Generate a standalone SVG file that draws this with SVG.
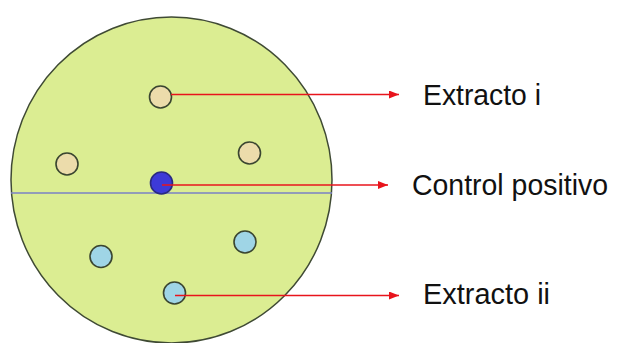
<svg xmlns="http://www.w3.org/2000/svg" width="617" height="343" viewBox="0 0 617 343">
<style>
.plate{fill:#dbed92;stroke:#3f4a34;stroke-width:1.5}
.well{stroke:#3a4530;stroke-width:1.6}
.tan{fill:#ecdcab}
.lb{fill:#9fd5e6}
.db{fill:#3d3ad8;stroke:#2a2a80}
.conn{stroke:#e8141c;stroke-width:1.5;fill:none}
.lbl{font-family:"Liberation Sans","Open Sans",sans-serif;font-size:29px;fill:#111}
</style>
<defs>
<marker id="ah" markerWidth="10" markerHeight="8" refX="10" refY="4" orient="auto" markerUnits="userSpaceOnUse">
<path d="M0,0 L10,4 L0,8 Z" fill="#e8141c"/>
</marker>
</defs>
<rect width="617" height="343" fill="#fff"/>
<g id="plate">
<ellipse class="plate" cx="171.5" cy="180" rx="160.5" ry="163"/>
<line x1="11" y1="193" x2="332" y2="193" stroke="#7a80c4" stroke-width="1.6"/>
</g>
<g id="well-top"><circle class="well tan" cx="160.5" cy="97" r="11"/></g>
<g id="well-left"><circle class="well tan" cx="67" cy="164" r="11"/></g>
<g id="well-right"><circle class="well tan" cx="249.5" cy="153" r="11"/></g>
<g id="well-control"><circle class="well db" cx="161.5" cy="183" r="11"/></g>
<g id="well-lb-left"><circle class="well lb" cx="101" cy="256.5" r="11"/></g>
<g id="well-lb-right"><circle class="well lb" cx="245" cy="242" r="11"/></g>
<g id="well-lb-bottom"><circle class="well lb" cx="174.5" cy="293" r="11"/></g>
<g id="connectors">
<line class="conn" x1="171" y1="94.5" x2="399" y2="94.5" marker-end="url(#ah)"/>
<line class="conn" x1="162" y1="185" x2="388" y2="185" marker-end="url(#ah)"/>
<line class="conn" x1="175" y1="295.5" x2="399" y2="295.5" marker-end="url(#ah)"/>
</g>
<g id="label-extracto-i"><text class="lbl" x="423" y="105" textLength="118" lengthAdjust="spacingAndGlyphs">Extracto i</text></g>
<g id="label-control"><text class="lbl" x="412" y="195" textLength="196" lengthAdjust="spacingAndGlyphs">Control positivo</text></g>
<g id="label-extracto-ii"><text class="lbl" x="423" y="304" textLength="127" lengthAdjust="spacingAndGlyphs">Extracto ii</text></g>
</svg>
